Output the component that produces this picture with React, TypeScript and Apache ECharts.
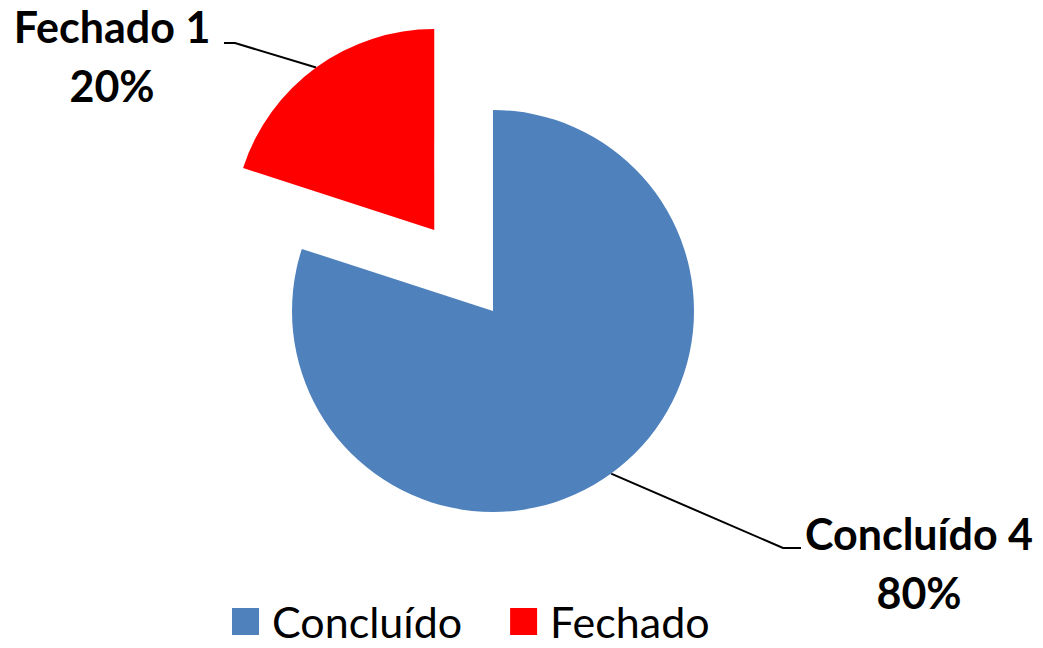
import React, { useEffect, useRef } from "react";
import * as echarts from "echarts";

const categories = ["Concluído", "Fechado"];
const values = [4, 1];
const colors = ["#4F81BD", "#FF0000"];
const explodedIndex = 1;

const CENTER = [493, 311];
const RADIUS = 201;
const EXPLODE = 100;
// label anchor (text center) and leader-line elbow/end per slice
const labelAnchors = [
  { x: 919, y: 563, elbow: [783, 548], end: [801, 548] },
  { x: 112, y: 56, elbow: [235, 43], end: [224, 43] },
];

export default function App() {
  const ref = useRef<HTMLDivElement>(null);
  useEffect(() => {
    if (!ref.current) return;
    const chart = echarts.init(ref.current, undefined, { renderer: "svg" });
    const total = values.reduce((a, b) => a + b, 0);
    const midAngles: number[] = [];
    let acc = 0;
    values.forEach((v) => {
      midAngles.push(((acc + v / 2) / total) * 2 * Math.PI);
      acc += v;
    });
    const ea = midAngles[explodedIndex];
    const explodedCenter = [
      CENTER[0] + EXPLODE * Math.sin(ea),
      CENTER[1] - EXPLODE * Math.cos(ea),
    ];
    const arcPoint = (i: number) => {
      const a = midAngles[i];
      const c = i === explodedIndex ? explodedCenter : CENTER;
      return [c[0] + RADIUS * Math.sin(a), c[1] - RADIUS * Math.cos(a)];
    };

    const makeSeries = (visibleFn: (i: number) => boolean, center: number[]) => ({
      type: "pie",
      center,
      radius: RADIUS,
      startAngle: 90,
      clockwise: true,
      avoidLabelOverlap: false,
      emphasis: { disabled: true },
      silent: true,
      itemStyle: { borderWidth: 0 },
      label: {
        show: true,
        position: "outside",
        fontFamily: "Lato",
        fontWeight: "bold",
        fontSize: 43,
        lineHeight: 59,
        color: "#000",
        align: "center",
        formatter: (p: any) => `${p.name} ${p.value}\n${Math.round(p.percent)}%`,
      },
      labelLine: {
        show: true,
        lineStyle: { color: "#000", width: 2 },
      },
      labelLayout: (params: any) => {
        const i = params.dataIndex;
        const a = labelAnchors[i];
        return {
          x: a.x,
          y: a.y,
          align: "center",
          verticalAlign: "middle",
          labelLinePoints: [arcPoint(i), a.elbow, a.end],
        };
      },
      data: categories.map((name, i) => {
        const vis = visibleFn(i);
        return {
          name,
          value: values[i],
          itemStyle: { color: vis ? colors[i] : "rgba(0,0,0,0)" },
          label: { show: vis },
          labelLine: { show: vis },
        };
      }),
    });

    chart.setOption({
      animation: false,
      legend: {
        left: 232,
        top: 600,
        padding: 0,
        icon: "rect",
        itemWidth: 27,
        itemHeight: 27,
        itemGap: 48,
        selectedMode: false,
        textStyle: {
          fontFamily: "Lato",
          fontSize: 43,
          color: "#000",
          lineHeight: 43,
          padding: [0, 0, 0, 8],
        },
        data: categories.map((name, i) => ({
          name,
          itemStyle: { color: colors[i] },
        })),
      },
      series: [
        makeSeries((i) => i !== explodedIndex, CENTER),
        makeSeries((i) => i === explodedIndex, explodedCenter),
      ],
    });
    return () => chart.dispose();
  }, []);
  return (
    <div
      ref={ref}
      style={{
        position: "fixed",
        left: 0,
        top: 0,
        width: 1043,
        height: 648,
        background: "#fff",
      }}
    />
  );
}
